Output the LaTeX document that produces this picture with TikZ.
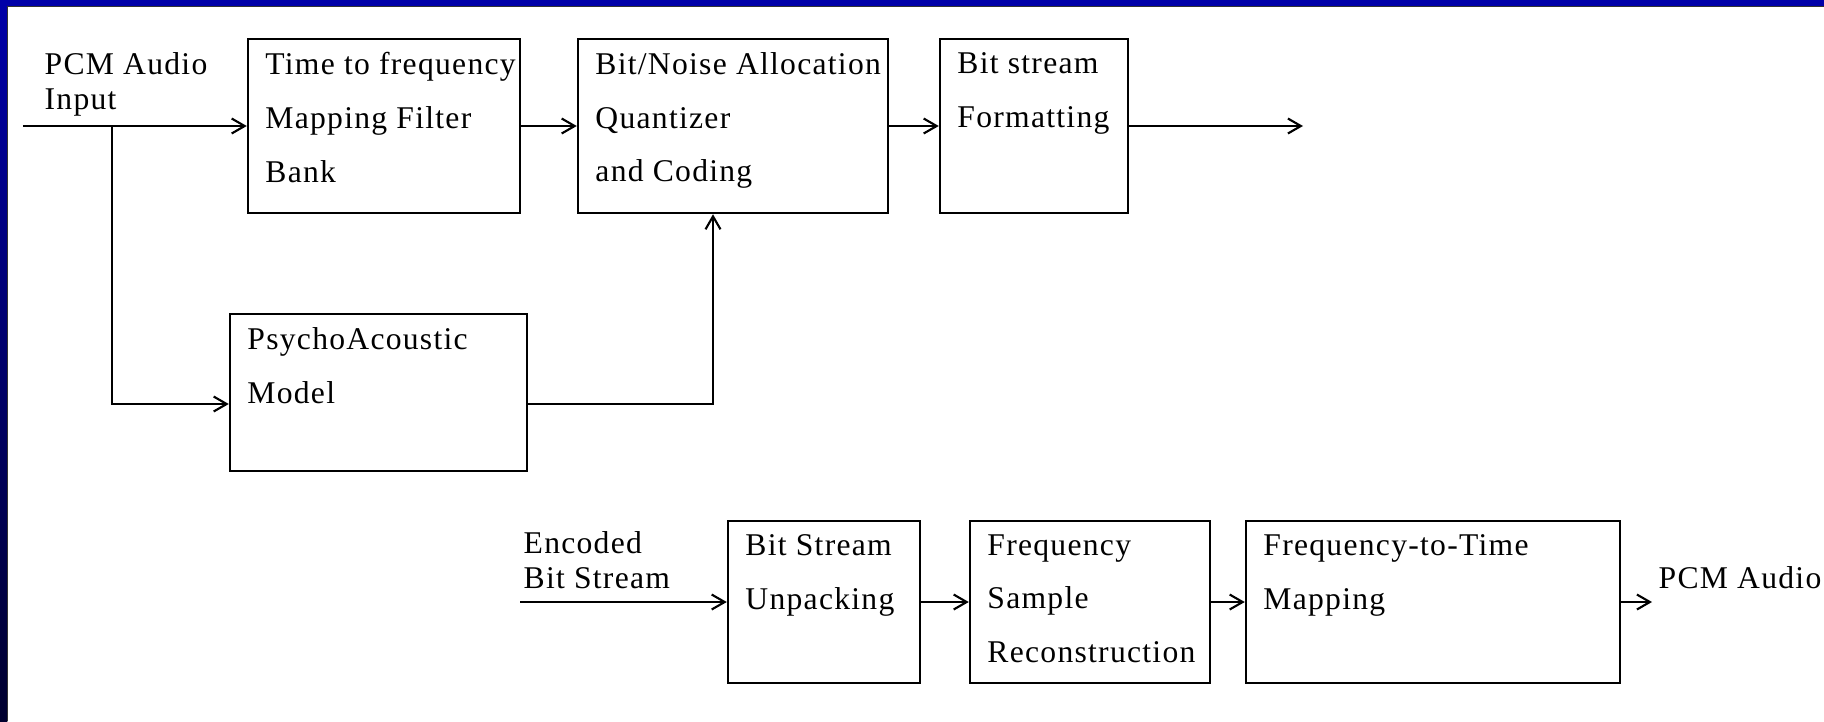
\documentclass[tikz,border=0pt]{standalone}
\usepackage{fontspec}
\setmainfont{Liberation Serif}[LetterSpace=4]
\usetikzlibrary{positioning,
        arrows.meta}
\definecolor{frameblue}{RGB}{0,0,168}
\definecolor{framenavy}{RGB}{0,0,46}

\begin{document}
\begin{tikzpicture}[
        blk/.style={draw, line width=0.7pt, inner sep=0pt},
        txt/.style={anchor=north west, inner sep=0pt, align=left,
                xshift=0.18cm, yshift=-0.14cm, font=\fontsize{9}{15.3}\selectfont},
        io/.style={anchor=north west, inner sep=0pt, align=left,
                font=\fontsize{9}{10}\selectfont},
        flow/.style={line width=0.6pt, -{Straight Barb[length=1.3mm,width=1.5mm]}},
        wire/.style={line width=0.6pt}]
        % frame
        \useasboundingbox (0,0) rectangle (18.24,-7.21);
        \fill[white] (0,0) rectangle (18.24,-7.21);
        \shade[top color=frameblue, bottom color=framenavy] (0,0) rectangle (0.075,-7.21);
        \fill[frameblue] (0,0) rectangle (18.24,-0.065);
        \draw[black!80, line width=0.5pt] (0.075,-7.21) -- (0.075,-0.065) -- (18.24,-0.065);

        % encoder
        \node [io] (pcmin) at (0.44,-0.52) {PCM Audio\\Input};
        \node [blk, minimum width=2.72cm, minimum height=1.74cm,
                label={[txt]north west:{Time to frequency\\Mapping Filter\\Bank}}] (tfmap) at (3.84,-1.26) {};
        \node [blk, minimum width=3.10cm, minimum height=1.74cm,
                label={[txt]north west:{Bit/Noise Allocation\\Quantizer\\and Coding}}] (alloc) at (7.33,-1.26) {};
        \node [blk, minimum width=1.88cm, minimum height=1.74cm,
                label={[txt]north west:{Bit stream\\Formatting}}] (fmt) at (10.34,-1.26) {};
        \node [blk, minimum width=2.97cm, minimum height=1.57cm,
                label={[txt]north west:{PsychoAcoustic\\Model}}] (psy) at (3.785,-3.925) {};
        \coordinate (inA) at (0.23,-1.26);
        \coordinate (split) at (1.12,-1.26);
        \coordinate (outA) at (13.03,-1.26);

        \draw [wire] (inA) -- (split);
        \draw [flow] (split) -- (tfmap.west);
        \draw [flow] (split) |- ([yshift=-0.115cm]psy.west);
        \draw [flow] (tfmap) -- (alloc);
        \draw [flow] (alloc) -- (fmt);
        \draw [flow] (fmt) -- (outA);
        \draw [flow] ([yshift=-0.115cm]psy.east) -| ([xshift=-0.2cm]alloc.south);

        % decoder
        \node [io] (encin) at (5.23,-5.31) {Encoded\\Bit Stream};
        \node [blk, minimum width=1.92cm, minimum height=1.62cm,
                label={[txt]north west:{Bit Stream\\Unpacking}}] (unpack) at (8.24,-6.02) {};
        \node [blk, minimum width=2.40cm, minimum height=1.62cm,
                label={[txt]north west:{Frequency\\Sample\\Reconstruction}}] (recon) at (10.90,-6.02) {};
        \node [blk, minimum width=3.74cm, minimum height=1.62cm,
                label={[txt]north west:{Frequency-to-Time\\Mapping}}] (ftmap) at (14.33,-6.02) {};
        \node [io] (pcmout) at (16.58,-5.66) {PCM Audio};
        \coordinate (inB) at (5.20,-6.02);
        \coordinate (outB) at (16.52,-6.02);

        \draw [flow] (inB) -- (unpack);
        \draw [flow] (unpack) -- (recon);
        \draw [flow] (recon) -- (ftmap);
        \draw [flow] (ftmap) -- (outB);
\end{tikzpicture}
\end{document}
